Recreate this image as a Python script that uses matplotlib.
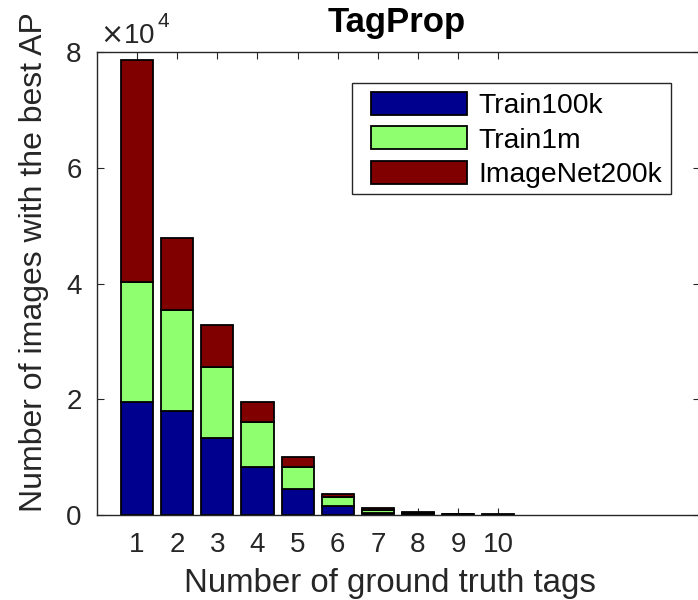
import matplotlib
matplotlib.use("Agg")
import matplotlib.pyplot as plt
from matplotlib.patches import Rectangle
import numpy as np

# Number of ground-truth tags per image and how often each dataset gives the best AP
num_tags = [1, 2, 3, 4, 5, 6, 7, 8, 9, 10]
train100k = [19600, 18000, 13300, 8300, 4500, 1600, 300, 150, 80, 30]
train1m = [20700, 17400, 12300, 7700, 3800, 1500, 600, 200, 100, 40]
imagenet200k = [38400, 12400, 7300, 3600, 1700, 500, 250, 100, 60, 40]
series_names = ["Train100k", "Train1m", "ImageNet200k"]
series_colors = ["#00008F", "#8FFF70", "#800000"]

plt.rcParams["font.family"] = ["Liberation Sans", "DejaVu Sans"]
ink = "#262626"

W, H = 698, 600
fig = plt.figure(figsize=(W / 100, H / 100), dpi=100)
ax = fig.add_axes([97 / W, 85 / H, 603 / W, 463 / H])

x = np.array(num_tags)
bottom = np.zeros(len(x))
for vals, name, col in zip([train100k, train1m, imagenet200k], series_names, series_colors):
    v = np.array(vals, dtype=float)
    ax.bar(x, v, width=0.8, bottom=bottom, color=col, edgecolor="black",
           linewidth=1.3, label=name, zorder=2)
    bottom += v

ax.set_xlim(0, 15.03)
ax.set_ylim(0, 80000)
ax.set_xticks(num_tags)
ax.set_xticklabels([str(n) for n in num_tags])
ax.set_yticks([0, 20000, 40000, 60000, 80000])
ax.set_yticklabels(["0", "2", "4", "6", "8"])

for s in ax.spines.values():
    s.set_color(ink)
    s.set_linewidth(1.0)
# the right edge of the box lies just past the figure border
ax.spines["right"].set_visible(False)
ax.tick_params(axis="both", which="both", direction="in", length=5, width=0.8,
               color=ink, labelcolor=ink, labelsize=20, top=True, right=True)
ax.tick_params(axis="x", pad=12)
ax.tick_params(axis="y", pad=11)

# exponent marker above the y axis
fig.text(100 / W, 1 - 43 / H, r"$\times$10", fontsize=20, color=ink, va="baseline", ha="left")
fig.text(158 / W, 1 - 27 / H, "4", fontsize=15, color=ink, va="baseline", ha="left")

fig.text(397 / W, 1 - 32 / H, "TagProp", fontsize=25, fontweight="bold",
         ha="center", va="baseline", color="black")

ax.set_xlabel("Number of ground truth tags", fontsize=23.8, color=ink, va="baseline", ha="center")
ax.xaxis.set_label_coords(390 / W, 1 - 592 / H, transform=fig.transFigure)
ax.set_ylabel("Number of images with the best AP", fontsize=23, color=ink, va="center", ha="center")
ax.yaxis.set_label_coords(34 / W, 1 - 262 / H, transform=fig.transFigure)

# legend entries, with a separate square frame drawn around them
leg = ax.legend(loc="upper left", bbox_to_anchor=(371 / W, 1 - 92 / H),
                bbox_transform=fig.transFigure, fontsize=20.3, frameon=False,
                borderaxespad=0, borderpad=0,
                handlelength=3.4, handleheight=0.88, handletextpad=0.4,
                labelspacing=0.25)
for t in leg.get_texts():
    t.set_color("black")
fig.add_artist(Rectangle((352 / W, 1 - 194 / H), (671 - 352) / W, (194 - 83) / H,
                         transform=fig.transFigure, facecolor="white",
                         edgecolor=ink, linewidth=1.0, zorder=4))
leg.set_zorder(5)
fig.add_artist(leg)

fig.savefig("out.png", dpi=100)
